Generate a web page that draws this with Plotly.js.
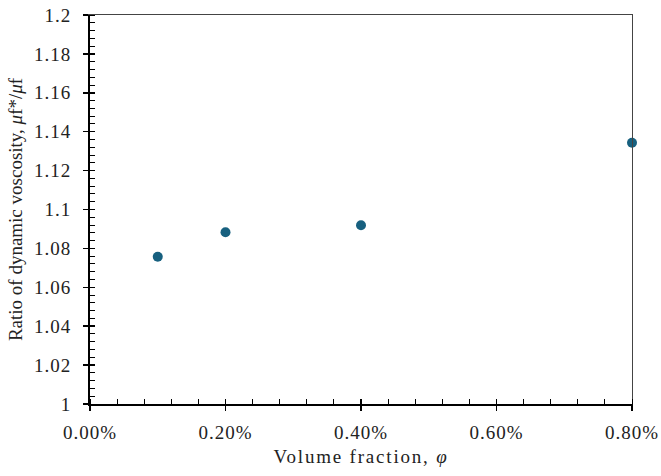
<!DOCTYPE html>
<html>
<head>
<meta charset="utf-8">
<script src="https://cdn.plot.ly/plotly-3.0.1.min.js"></script>
<style>
  html, body { margin: 0; padding: 0; background: #fff; }
  #chart { width: 661px; height: 476px; }
  /* slightly wider setting for horizontal labels */
  #chart .xtick text, #chart .ytick text { letter-spacing: 1px; }
  #chart text.xtitle { letter-spacing: 1.8px; }
</style>
</head>
<body>
<div id="chart"></div>
<script>
// Volume fraction of nanoparticles (as a fraction; shown as percent)
const volumeFraction = [0.001, 0.002, 0.004, 0.008];
// Ratio of dynamic viscosity, nanofluid to base fluid
const viscosityRatio = [1.0757, 1.0883, 1.0919, 1.1343];

const xRange = [0, 0.008];
const yRange = [1, 1.2];
const serif = '"Liberation Serif", "Times New Roman", serif';

const trace = {
  x: volumeFraction,
  y: viscosityRatio,
  type: 'scatter',
  mode: 'markers',
  marker: { color: '#17607f', size: 10 },
  cliponaxis: false,
  hoverinfo: 'x+y'
};

const tickFont = { family: serif, size: 19, color: '#222' };

const layout = {
  width: 661,
  height: 476,
  margin: { l: 90, r: 29, t: 15, b: 72 },
  paper_bgcolor: '#fff',
  plot_bgcolor: '#fff',
  showlegend: false,
  font: { family: serif, color: '#222', size: 19 },
  xaxis: {
    range: xRange,
    dtick: 0.002,
    tickformat: '.2%',
    showgrid: false,
    zeroline: false,
    showline: true,
    linecolor: '#000',
    linewidth: 2,
    ticks: 'outside',
    ticklen: 5,
    tickwidth: 1.5,
    tickcolor: '#000',
    tickfont: tickFont,
    ticklabelstandoff: 5,
    minor: { ticks: 'inside', dtick: 0.0004, ticklen: 5, tickwidth: 1, tickcolor: '#000' },
    title: { text: 'Volume fraction, <i>φ</i>', font: { family: serif, size: 19, color: '#222' }, standoff: 8 }
  },
  // inside half of the crossing major ticks
  xaxis2: {
    overlaying: 'x', side: 'bottom', range: xRange, dtick: 0.002,
    showgrid: false, zeroline: false, showline: false, showticklabels: false,
    ticks: 'inside', ticklen: 5, tickwidth: 1.5, tickcolor: '#000'
  },
  // thin top border
  xaxis3: {
    overlaying: 'x', side: 'top', range: xRange,
    showgrid: false, zeroline: false, showline: true, linecolor: '#444', linewidth: 1,
    showticklabels: false, ticks: ''
  },
  yaxis: {
    range: yRange,
    dtick: 0.02,
    showgrid: false,
    zeroline: false,
    showline: true,
    linecolor: '#000',
    linewidth: 2,
    ticks: 'outside',
    ticklen: 5,
    tickwidth: 1.5,
    tickcolor: '#000',
    tickfont: tickFont,
    ticklabelstandoff: 8,
    minor: { ticks: 'inside', dtick: 0.004, ticklen: 5, tickwidth: 1, tickcolor: '#000' },
    title: { text: 'Ratio of dynamic voscosity, <i>μ</i>f*/<i>μ</i>f', font: { family: serif, size: 19, color: '#222' }, standoff: 10 }
  },
  yaxis2: {
    overlaying: 'y', side: 'left', range: yRange, dtick: 0.02,
    showgrid: false, zeroline: false, showline: false, showticklabels: false,
    ticks: 'inside', ticklen: 5, tickwidth: 1.5, tickcolor: '#000'
  },
  yaxis3: {
    overlaying: 'y', side: 'right', range: yRange,
    showgrid: false, zeroline: false, showline: true, linecolor: '#444', linewidth: 1,
    showticklabels: false, ticks: ''
  }
};

// invisible helper traces so the overlay axes are drawn
const helper2 = { x: [], y: [], xaxis: 'x2', yaxis: 'y2', type: 'scatter', mode: 'markers', hoverinfo: 'skip' };
const helper3 = { x: [], y: [], xaxis: 'x3', yaxis: 'y3', type: 'scatter', mode: 'markers', hoverinfo: 'skip' };

Plotly.newPlot('chart', [helper2, helper3, trace], layout, { displayModeBar: false, staticPlot: true });
</script>
</body>
</html>
